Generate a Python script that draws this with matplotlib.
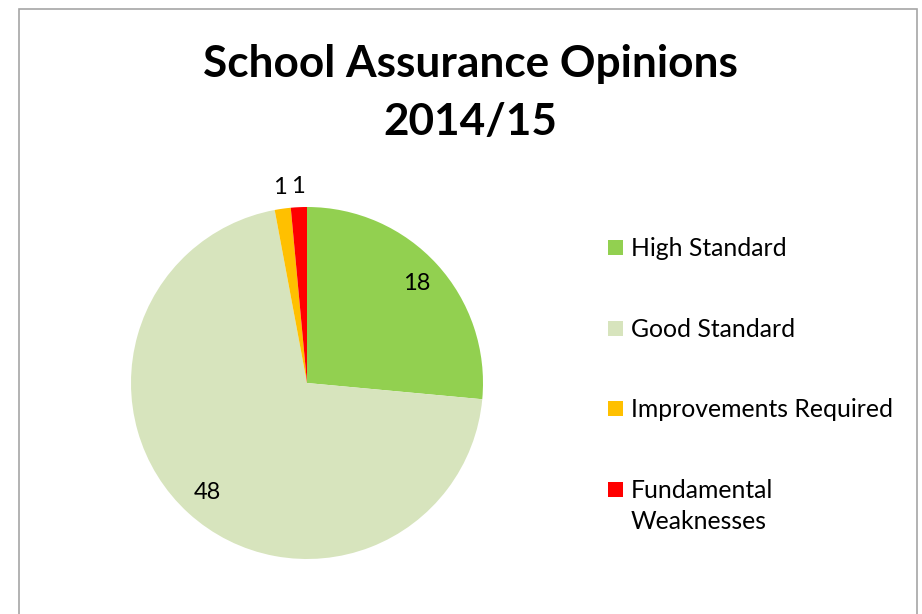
import numpy as np
import matplotlib.pyplot as plt
from matplotlib.patches import Rectangle

plt.rcParams['font.family'] = ['Lato', 'DejaVu Sans']

# Data
categories = ['High Standard', 'Good Standard', 'Improvements Required', 'Fundamental\nWeaknesses']
counts = [18, 48, 1, 1]
colors = ['#92D050', '#D7E4BD', '#FFC000', '#FF0000']
title = 'School Assurance Opinions\n2014/15'

W, H = 922, 614
fig = plt.figure(figsize=(W / 100, H / 100), dpi=100)

# chart frame
fig.patches.append(Rectangle((19 / W, -0.05), 898 / W, 1.05 - 9 / H, transform=fig.transFigure,
                             fill=False, edgecolor='#a6a6a6', linewidth=1.2))

# pie axes: centre (307, 383), radius 176 px
cx, cy, r = 307, 383, 176
ax = fig.add_axes([(cx - r) / W, (H - cy - r) / H, 2 * r / W, 2 * r / H])
wedges, _ = ax.pie(counts, colors=colors, startangle=90, counterclock=False,
                   wedgeprops=dict(linewidth=0))
ax.set_xlim(-1, 1)
ax.set_ylim(-1, 1)
ax.axis('off')

# value labels: inside for big slices, just outside for small ones
total = sum(counts)
for w, v in zip(wedges, counts):
    ang = np.deg2rad((w.theta1 + w.theta2) / 2)
    d = 0.84 if v / total > 0.1 else 1.12
    ax.text(d * np.cos(ang), d * np.sin(ang), str(v), ha='center', va='center',
            fontsize=17, color='black', clip_on=False)

fig.text(470 / W, 1 - 93 / H, title, ha='center', va='center', fontsize=31.8,
         fontweight='bold', linespacing=1.52)

# legend
y0 = 247
for i, (lab, col) in enumerate(zip(categories, colors)):
    y = y0 + i * 80.7
    fig.patches.append(Rectangle((608 / W, 1 - (y + 8) / H), 15 / W, 15 / H,
                                 transform=fig.transFigure, color=col, linewidth=0))
    fig.text(631 / W, 1 - (y - 10) / H, lab, ha='left', va='top', fontsize=17.8,
             linespacing=1.39)

fig.savefig('out.png', dpi=100)
